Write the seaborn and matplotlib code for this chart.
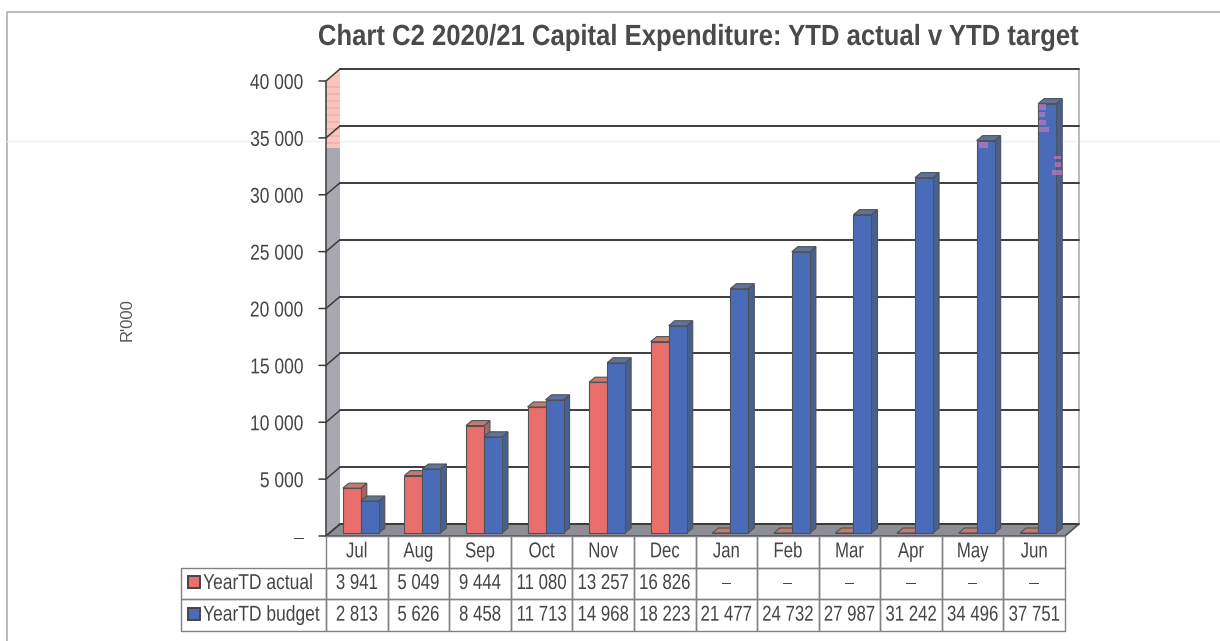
import matplotlib
matplotlib.use("Agg")
import matplotlib.pyplot as plt
import matplotlib.patheffects as pe
from matplotlib.patches import Polygon, Rectangle
from matplotlib.transforms import Affine2D, IdentityTransform
import numpy as np
import pandas as pd
import seaborn as sns

months = ["Jul", "Aug", "Sep", "Oct", "Nov", "Dec", "Jan", "Feb", "Mar", "Apr", "May", "Jun"]
actual = [3941, 5049, 9444, 11080, 13257, 16826, 0, 0, 0, 0, 0, 0]
budget = [2813, 5626, 8458, 11713, 14968, 18223, 21477, 24732, 27987, 31242, 34496, 37751]
series_names = ["YearTD actual", "YearTD budget"]
y_ticks = [0, 5000, 10000, 15000, 20000, 25000, 30000, 35000, 40000]

W, H = 1220, 641
L, R, BOT, TOP = 326, 1065, 536, 81     # front plane of the plot box, in pixels
DEPTH = (14, 12)                         # shift from front plane to back wall
BAR_SHIFT = (4, 3)                       # where bars stand on the floor
BAR_DEPTH = (6, 5)

RED, RED_TOP, RED_SIDE = "#e86f6c", "#c47a6c", "#a9645f"
BLUE, BLUE_TOP, BLUE_SIDE = "#4a6cb8", "#5f7299", "#466090"
INK = "#454545"
EDGE = "#50525a"
FONT = ["Liberation Sans", "DejaVu Sans"]


class Condense(pe.AbstractPathEffect):
    """Squeezes a text horizontally about its left, centre or right edge."""

    def __init__(self, text, factor, anchor="center"):
        super().__init__()
        self.text, self.factor, self.anchor = text, factor, anchor

    def draw_path(self, renderer, gc, tpath, affine, rgbFace=None):
        box = self.text.get_window_extent()
        x0 = {"left": box.x0, "center": (box.x0 + box.x1) / 2, "right": box.x1}[self.anchor]
        squeezed = affine + Affine2D().translate(-x0, 0).scale(self.factor, 1).translate(x0, 0)
        renderer.draw_path(gc, tpath, squeezed, rgbFace)


def condense(text, factor, anchor="center"):
    text.set_path_effects([Condense(text, factor, anchor)])


sns.set_theme(style="white")
plt.rcParams["font.family"] = FONT
fig = plt.figure(figsize=(W / 100, H / 100), dpi=100, facecolor="white")
ax = fig.add_axes([L / W, 1 - BOT / H, (R - L) / W, (BOT - TOP) / H])
ax.patch.set_visible(False)

df = pd.DataFrame({
    "month": months * 2,
    "value": actual + budget,
    "series": [series_names[0]] * 12 + [series_names[1]] * 12,
})
sns.barplot(data=df, x="month", y="value", hue="series", order=months,
            hue_order=series_names, palette=[RED, BLUE], width=0.585, gap=0,
            saturation=1, legend=False, ax=ax, zorder=5, linewidth=0.8, edgecolor=EDGE)
ax.set_xlim(-0.5, 11.5)
ax.set_ylim(0, 40000)


def shifted(dx, dy):
    """Data transform moved by a pixel offset, for the oblique projection."""
    return ax.transData + Affine2D().translate(dx, dy)


px = Affine2D().scale(1, -1).translate(0, H)   # top-left pixel coordinates
bars = list(ax.patches[:24])

# Walls and floor of the oblique box
dx, dy = DEPTH
PINK_END = 148
wall = [(L, BOT), (L + dx, BOT - dy), (L + dx, TOP - dy), (L, TOP)]
grey_part = [(L, BOT), (L + dx, BOT - dy), (L + dx, PINK_END), (L, PINK_END)]
ax.add_patch(Polygon(wall, closed=True, transform=px, fc="#f8c6be", ec="none", zorder=0, clip_on=False))
ax.add_patch(Polygon(grey_part, closed=True, transform=px, fc="#a8a8b0", ec="none", zorder=0.5, clip_on=False))
for stripe in range(86, PINK_END - 4, 7):
    ax.add_patch(Rectangle((L, stripe), dx, 1.5, transform=px, fc="#ebb8b0", ec="none", zorder=0.6, clip_on=False))
ax.add_patch(Polygon([(L, BOT), (R, BOT), (R + dx, BOT - dy), (L + dx, BOT - dy)], closed=True,
                     transform=px, fc="#8d8d95", ec=EDGE, lw=1.2, zorder=1, clip_on=False))
# Pale right-hand edge of the back wall
ax.plot([R + dx, R + dx], [BOT - dy, TOP - dy], transform=px, color="#b4b4ba", lw=1.3, zorder=1, clip_on=False)

# Gridlines on the back wall with their slanted run along the side wall
for t in y_ticks:
    ax.plot([-0.5, 11.5], [t, t], transform=shifted(dx, dy), color="#3c3c3c", lw=1.4, zorder=2, clip_on=False)
    y = ax.transData.transform((0, t))[1]
    ax.plot([L - 7, L, L + dx], [H - y, H - y, H - y - dy], transform=px,
            color="#3c3c3c", lw=1.1, zorder=2, clip_on=False)
ax.plot([L, L], [BOT, TOP], transform=px, color="#3c3c3c", lw=1.1, zorder=2, clip_on=False)

# Give every bar its translated front face, top and side
sx, sy = BAR_SHIFT
bx, by = BAR_DEPTH
front = shifted(sx, sy)
tops = [(RED_TOP, RED_SIDE)] * 12 + [(BLUE_TOP, BLUE_SIDE)] * 12
for order, (bar, (top_c, side_c)) in enumerate(zip(bars, tops)):
    x0, w, h = bar.get_x(), bar.get_width(), bar.get_height()
    bar.set_transform(front)
    bar.set_clip_on(False)
    (xa, ya), (xb, yb) = ax.transData.transform([(x0, 0), (x0 + w, h)])
    xa += sx; xb += sx; ya += sy; yb += sy
    z = 4 if order < 12 else 5
    bar.set_zorder(z + 0.2)
    side = [(xb, ya), (xb + bx, ya + by), (xb + bx, yb + by), (xb, yb)]
    top = [(xa, yb), (xb, yb), (xb + bx, yb + by), (xa + bx, yb + by)]
    for poly, colour in ((side, side_c), (top, top_c)):
        ax.add_patch(Polygon(poly, closed=True, transform=IdentityTransform(), fc=colour,
                             ec=EDGE, lw=0.8, zorder=z, clip_on=False))

# Pink blotches on the tallest bars
for bx0, by0, bw, bh in [(1039, 104, 7, 6), (1039, 112, 6, 5), (1039, 120, 7, 5), (1039, 127, 10, 5),
                         (979, 142, 9, 6), (1054, 156, 7, 3), (1055, 162, 6, 5), (1052, 170, 10, 5)]:
    ax.add_patch(Rectangle((bx0, by0), bw, bh, transform=px, fc="#cf80c4", ec="none", alpha=0.6,
                           zorder=5.5, clip_on=False))

# Axis text
ax.set_xticks([])
ax.set_xlabel("")
ax.set_ylabel("")
ax.set_yticks(y_ticks)
ax.set_yticklabels(["–" if t == 0 else f"{t:,}".replace(",", " ") for t in y_ticks],
                   fontsize=15.5, color=INK, family=FONT)
ax.tick_params(axis="y", length=0, pad=16, left=False)
for label in ax.get_yticklabels():
    condense(label, 0.81, "right")
sns.despine(ax=ax, left=True, bottom=True)

title = fig.text(698 / W, 1 - 37 / H, "Chart C2 2020/21 Capital Expenditure: YTD actual v YTD target",
                 ha="center", va="center", fontsize=21, fontweight="bold", color="#4a4a4a", family=FONT)
condense(title, 0.88)
fig.text(127 / W, 1 - 320 / H, "R'000", rotation=90, ha="center", va="center",
         fontsize=12, color="#555555", family=FONT)

# Data table under the plot, one column per month
fmt = lambda v: "–" if v == 0 else f"{v:,}".replace(",", " ")
cells = [[""] + months,
         [series_names[0]] + [fmt(v) for v in actual],
         [series_names[1]] + [fmt(v) for v in budget]]
LEFT, TBOT = 181, 631
label_w = (L - LEFT) / (R - LEFT)
col_w = (1 - label_w) / 12
table = ax.table(cellText=cells, colWidths=[label_w] + [col_w] * 12, cellLoc="center", zorder=6,
                 bbox=[(LEFT - L) / (R - L), -(TBOT - BOT) / (BOT - TOP), (R - LEFT) / (R - L), (TBOT - BOT) / (BOT - TOP)])
table.auto_set_font_size(False)
for (r, c), cell in table.get_celld().items():
    cell.set_edgecolor("#808085")
    cell.set_linewidth(1.0)
    cell.set_facecolor("none")
    txt = cell.get_text()
    txt.set_fontsize(15.5)
    txt.set_color(INK)
    txt.set_family(FONT)
    if r == 0 and c == 0:
        cell.visible_edges = ""
    if r > 0 and c == 0:
        txt.set_ha("left")
        cell.PAD = 0.152
        condense(txt, 0.81, "left")
    else:
        condense(txt, 0.78, "center")
for y_mid, color in zip((582, 614), (RED, BLUE)):
    ax.add_patch(Rectangle((188, y_mid - 6), 12, 12, transform=px, fc=color, ec="#444444", lw=1.4,
                           zorder=7, clip_on=False))

# Page frame: scanned sheet edge on the top and left, plus a faint scanner streak
fig.add_artist(plt.Line2D([7 / W, 7 / W, 1], [0, 1 - 12 / H, 1 - 12 / H], color="#a8a8a8", lw=1.1, zorder=-1))
fig.add_artist(plt.Line2D([7 / W, 1], [1 - 141 / H, 1 - 141 / H], color="#f0f0f2", lw=1.0, zorder=-1))

fig.savefig("out.png", dpi=100, facecolor="white")
